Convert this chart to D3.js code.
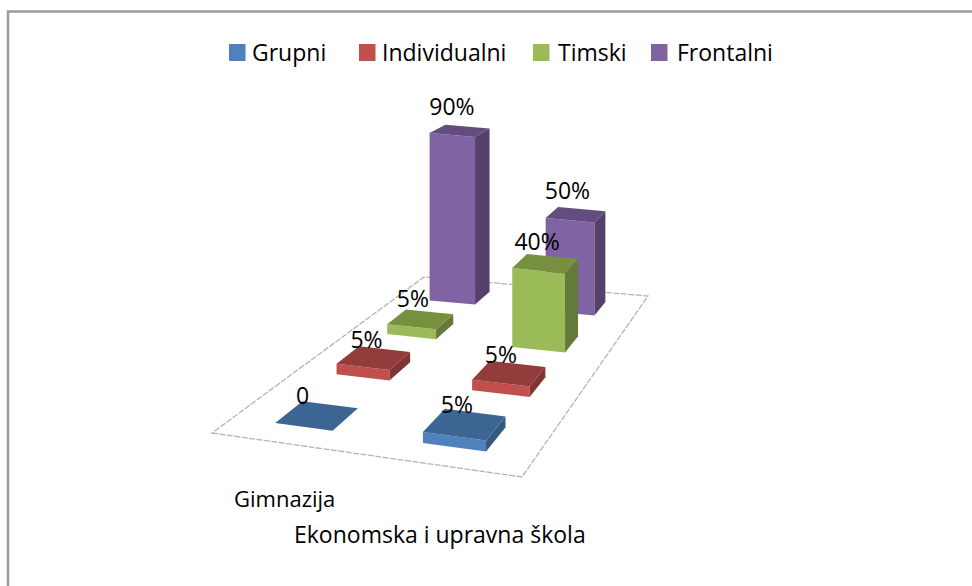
<!DOCTYPE html>
<html><head><meta charset="utf-8">
<script src="https://cdn.jsdelivr.net/npm/d3@7"></script>
<style>html,body{margin:0;background:#fff}svg{display:block}text{font-family:"Open Sans",sans-serif;fill:#000}</style>
</head><body><svg id="c" width="972" height="586"></svg>
<script>
const schools=["Gimnazija","Ekonomska i upravna škola"];
const seriesNames=["Grupni","Individualni","Timski","Frontalni"];
const colors=["#4F81BD","#C0504D","#9BBB59","#8064A2"];
const topColors=["#3E6594","#923C3A","#77903F","#624D7E"];
const sideColors=["#36587F","#7F3432","#65793A","#54416C"];
const gimnazija=[0,5,5,90];
const ekonomska=[5,5,40,50];
const labelsGim=["0","5%","5%","90%"];
const labelsEko=["5%","5%","40%","50%"];
const tableVals=[gimnazija,ekonomska], tableLabels=[labelsGim,labelsEko];

const svg=d3.select("#c");
const defs=svg.append("defs");
defs.append("filter").attr("id","soft").append("feGaussianBlur").attr("stdDeviation",0.7);

const corners={a:[212,433],b:[522,477],c:[648,296],d:[424,277]};
function homography(a,b,c,d){
  const dx1=b[0]-c[0],dx2=d[0]-c[0],sx=a[0]-b[0]+c[0]-d[0];
  const dy1=b[1]-c[1],dy2=d[1]-c[1],sy=a[1]-b[1]+c[1]-d[1];
  const den=dx1*dy2-dx2*dy1;
  const g=(sx*dy2-dx2*sy)/den,h=(dx1*sy-sx*dy1)/den;
  const A=b[0]-a[0]+g*b[0],B=d[0]-a[0]+h*d[0],C=a[0];
  const D=b[1]-a[1]+g*b[1],E=d[1]-a[1]+h*d[1],F=a[1];
  return (u,v)=>{const w=g*u+h*v+1;return [(A*u+B*v+C)/w,(D*u+E*v+F)/w];};
}
const floor=homography(corners.a,corners.b,corners.c,corners.d);
const uScale=d3.scaleBand().domain(schools).range([0,1]).paddingInner(0.6).paddingOuter(0.3);
const vScale=d3.scaleBand().domain(seriesNames).range([0,1]).paddingInner(0.58).paddingOuter(0.29);
const hScale=d3.scaleLinear().domain([0,100]).range([0,1]);
const pxPerUnit=d3.scaleLinear().domain([0,1]).range([224,178]);
const rowGap=d3.scaleOrdinal().domain(seriesNames).range([-3,-1,3,7]);
const anchorFrac=d3.scaleOrdinal().domain(schools).range([0.15,0.2]);
const project=(u,v,h)=>{const p=floor(u,v);return [p[0],p[1]-h*pxPerUnit(v)];};
const path=pts=>"M"+pts.map(p=>p.join(",")).join("L")+"Z";

svg.append("rect").attr("x",8).attr("y",11.5).attr("width",1000).attr("height",640)
  .attr("fill","#fff").attr("stroke","#9a9a9a").attr("stroke-width",2.5);

const scene=svg.append("g").attr("filter","url(#soft)");
scene.append("path").attr("d",path([[0,0],[1,0],[1,1],[0,1]].map(c=>floor(c[0],c[1]))))
  .attr("fill","none").attr("stroke","#b4b4b4").attr("stroke-width",1.3).attr("stroke-dasharray","6 1.5");

const bars=[];
schools.forEach((s,i)=>seriesNames.forEach((n,j)=>bars.push({s,n,j,val:tableVals[i][j],label:tableLabels[i][j]})));
bars.sort((x,y)=>y.j-x.j||schools.indexOf(y.s)-schools.indexOf(x.s));

bars.forEach(b=>{
  const u0=uScale(b.s),u1=u0+uScale.bandwidth(),v0=vScale(b.n),v1=v0+vScale.bandwidth();
  const h=hScale(b.val);
  const g=scene.append("g");
  if(h>0){
    g.append("path").attr("d",path([project(u0,v0,0),project(u1,v0,0),project(u1,v0,h),project(u0,v0,h)])).attr("fill",colors[b.j]);
    g.append("path").attr("d",path([project(u1,v0,0),project(u1,v1,0),project(u1,v1,h),project(u1,v0,h)])).attr("fill",sideColors[b.j]);
  }
  g.append("path").attr("d",path([project(u0,v0,h),project(u1,v0,h),project(u1,v1,h),project(u0,v1,h)])).attr("fill",topColors[b.j]);
});

bars.forEach(b=>{
  const u0=uScale(b.s),v1=vScale(b.n)+vScale.bandwidth();
  const frac=b.val>0?anchorFrac(b.s):0;
  const p=project(u0+uScale.bandwidth()*frac,v1,hScale(b.val));
  svg.append("text").attr("x",p[0]).attr("y",p[1]-rowGap(b.n)-b.val*0.04).attr("text-anchor","middle").attr("font-size",23).text(b.label);
});

const catPos=[[234,507],[294,543]];
const catSize=[22,23];
schools.forEach((s,i)=>svg.append("text").attr("x",catPos[i][0]).attr("y",catPos[i][1]).attr("font-size",catSize[i]).text(s));

const legX=[229,359,533,651],legTextX=[252,382,558,677];
seriesNames.forEach((n,i)=>{
  svg.append("rect").attr("x",legX[i]).attr("y",44).attr("width",16.5).attr("height",17).attr("fill",colors[i]);
  svg.append("text").attr("x",legTextX[i]).attr("y",61).attr("font-size",23).text(n);
});
</script></body></html>
